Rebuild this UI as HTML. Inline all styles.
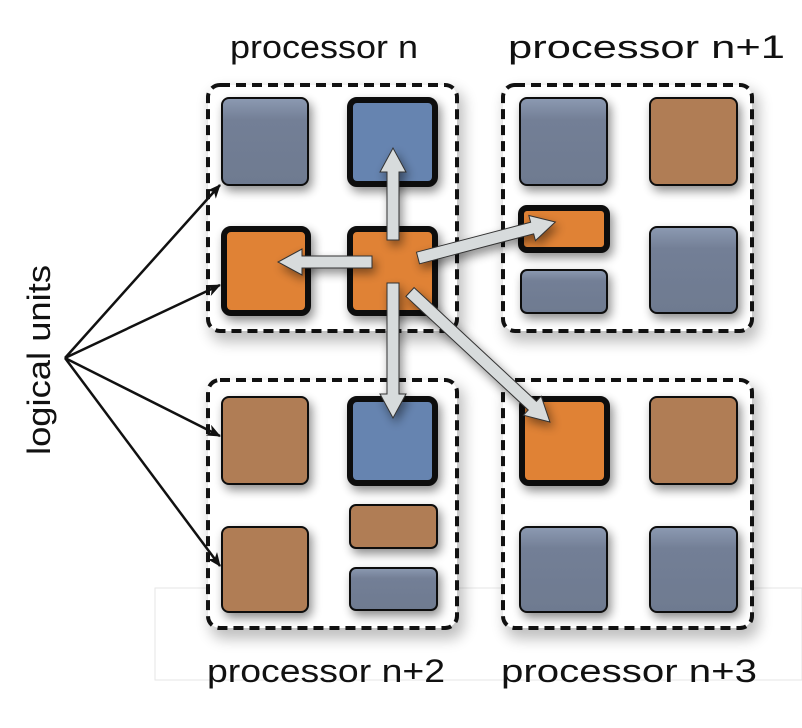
<!DOCTYPE html>
<html><head><style>
html,body{margin:0;padding:0;background:#fff;}
svg{display:block;}
text{font-family:"Liberation Sans","DejaVu Sans",sans-serif;fill:#111;}
</style></head><body>
<svg width="802" height="728" viewBox="0 0 802 728" xmlns="http://www.w3.org/2000/svg">
<defs>
<filter id="sh" x="-30%" y="-30%" width="160%" height="160%"><feGaussianBlur in="SourceAlpha" stdDeviation="5"/><feOffset dx="3" dy="5"/><feComponentTransfer><feFuncA type="linear" slope="0.45"/></feComponentTransfer><feMerge><feMergeNode/><feMergeNode in="SourceGraphic"/></feMerge></filter>
<filter id="bs" x="-10%" y="-10%" width="120%" height="120%"><feGaussianBlur stdDeviation="7"/></filter>
<linearGradient id="sl" x1="0" y1="0" x2="0" y2="1"><stop offset="0" stop-color="#8c9ab2"/><stop offset="0.25" stop-color="#737f96"/><stop offset="1" stop-color="#6e7a90"/></linearGradient>
<marker id="ah" markerWidth="14" markerHeight="12" refX="13" refY="6" orient="auto" markerUnits="userSpaceOnUse"><path d="M0,0 L14,6 L0,12 L4,6z" fill="#111"/></marker>
</defs>
<rect x="155" y="588" width="647" height="92" fill="none" stroke="#e6e6e6" stroke-width="1"/>
<g fill="#000" opacity="0.25" filter="url(#bs)">
<rect x="210" y="90" width="254" height="252" rx="14"/>
<rect x="505" y="90" width="254" height="252" rx="14"/>
<rect x="210" y="385" width="254" height="254" rx="14"/>
<rect x="505" y="385" width="254" height="254" rx="14"/>
</g>
<g fill="#fff">
<rect x="208" y="85" width="249" height="246" rx="12"/>
<rect x="503" y="85" width="249" height="246" rx="12"/>
<rect x="208" y="380" width="249" height="248" rx="12"/>
<rect x="503" y="380" width="249" height="248" rx="12"/>
</g>
<g fill="none" stroke="#111" stroke-width="4" stroke-dasharray="10,6">
<rect x="208" y="85" width="249" height="246" rx="12"/>
<rect x="503" y="85" width="249" height="246" rx="12"/>
<rect x="208" y="380" width="249" height="248" rx="12"/>
<rect x="503" y="380" width="249" height="248" rx="12"/>
</g>
<g filter="url(#sh)" stroke="#111">
<rect x="222" y="98" width="86" height="87" rx="7" fill="url(#sl)" stroke-width="2"/>
<rect x="350" y="100" width="85" height="84" rx="7" fill="#6684b0" stroke-width="6"/>
<rect x="224" y="229" width="84" height="84" rx="7" fill="#e08236" stroke-width="6"/>
<rect x="350" y="229" width="85" height="84" rx="7" fill="#e08236" stroke-width="6"/>
<rect x="520" y="98" width="87" height="87" rx="7" fill="url(#sl)" stroke-width="2"/>
<rect x="650" y="98" width="87" height="87" rx="7" fill="#b07d55" stroke-width="2"/>
<rect x="521" y="208" width="86" height="42" rx="6" fill="#e08236" stroke-width="6"/>
<rect x="521" y="270" width="86" height="43" rx="6" fill="url(#sl)" stroke-width="2"/>
<rect x="650" y="227" width="87" height="86" rx="7" fill="url(#sl)" stroke-width="2"/>
<rect x="222" y="397" width="86" height="87" rx="7" fill="#b07d55" stroke-width="2"/>
<rect x="350" y="399" width="85" height="84" rx="7" fill="#6684b0" stroke-width="6"/>
<rect x="222" y="527" width="86" height="85" rx="7" fill="#b07d55" stroke-width="2"/>
<rect x="350" y="505" width="87" height="43" rx="6" fill="#b07d55" stroke-width="2"/>
<rect x="350" y="568" width="87" height="42" rx="6" fill="url(#sl)" stroke-width="2"/>
<rect x="522" y="399" width="85" height="84" rx="7" fill="#e08236" stroke-width="6"/>
<rect x="650" y="397" width="87" height="87" rx="7" fill="#b07d55" stroke-width="2"/>
<rect x="520" y="527" width="87" height="85" rx="7" fill="url(#sl)" stroke-width="2"/>
<rect x="650" y="527" width="87" height="85" rx="7" fill="url(#sl)" stroke-width="2"/>
</g>
<g fill="#d7dbdc" stroke="#333" stroke-width="1" filter="url(#sh)">
<polygon transform="translate(393,240) rotate(-90)" points="0,-6 68,-6 68,-13 92,0 68,13 68,6 0,6"/>
<polygon transform="translate(372,262) rotate(180)" points="0,-6 70,-6 70,-13 94,0 70,13 70,6 0,6"/>
<polygon transform="translate(418,258) rotate(-14.7)" points="0,-6 118,-6 118,-13 142,0 118,13 118,6 0,6"/>
<polygon transform="translate(393,283) rotate(90)" points="0,-6 111,-6 111,-13 135,0 111,13 111,6 0,6"/>
<polygon transform="translate(410,292) rotate(42.9)" points="0,-6 167,-6 167,-13 191,0 167,13 167,6 0,6"/>
</g>
<g stroke="#111" stroke-width="2.5" fill="none" marker-end="url(#ah)">
<line x1="65" y1="358" x2="220" y2="185"/>
<line x1="65" y1="358" x2="220" y2="285"/>
<line x1="65" y1="358" x2="220" y2="436"/>
<line x1="65" y1="358" x2="220" y2="566"/>
</g>
<text x="230" y="58" font-size="32" textLength="188" lengthAdjust="spacingAndGlyphs">processor n</text>
<text x="508" y="58" font-size="32" textLength="277" lengthAdjust="spacingAndGlyphs">processor n+1</text>
<text x="207" y="682" font-size="32" textLength="238" lengthAdjust="spacingAndGlyphs">processor n+2</text>
<text x="501" y="682" font-size="32" textLength="256" lengthAdjust="spacingAndGlyphs">processor n+3</text>
<text transform="translate(50,360) rotate(-90)" text-anchor="middle" font-size="32" textLength="190" lengthAdjust="spacingAndGlyphs">logical units</text>
</svg>
</body></html>
